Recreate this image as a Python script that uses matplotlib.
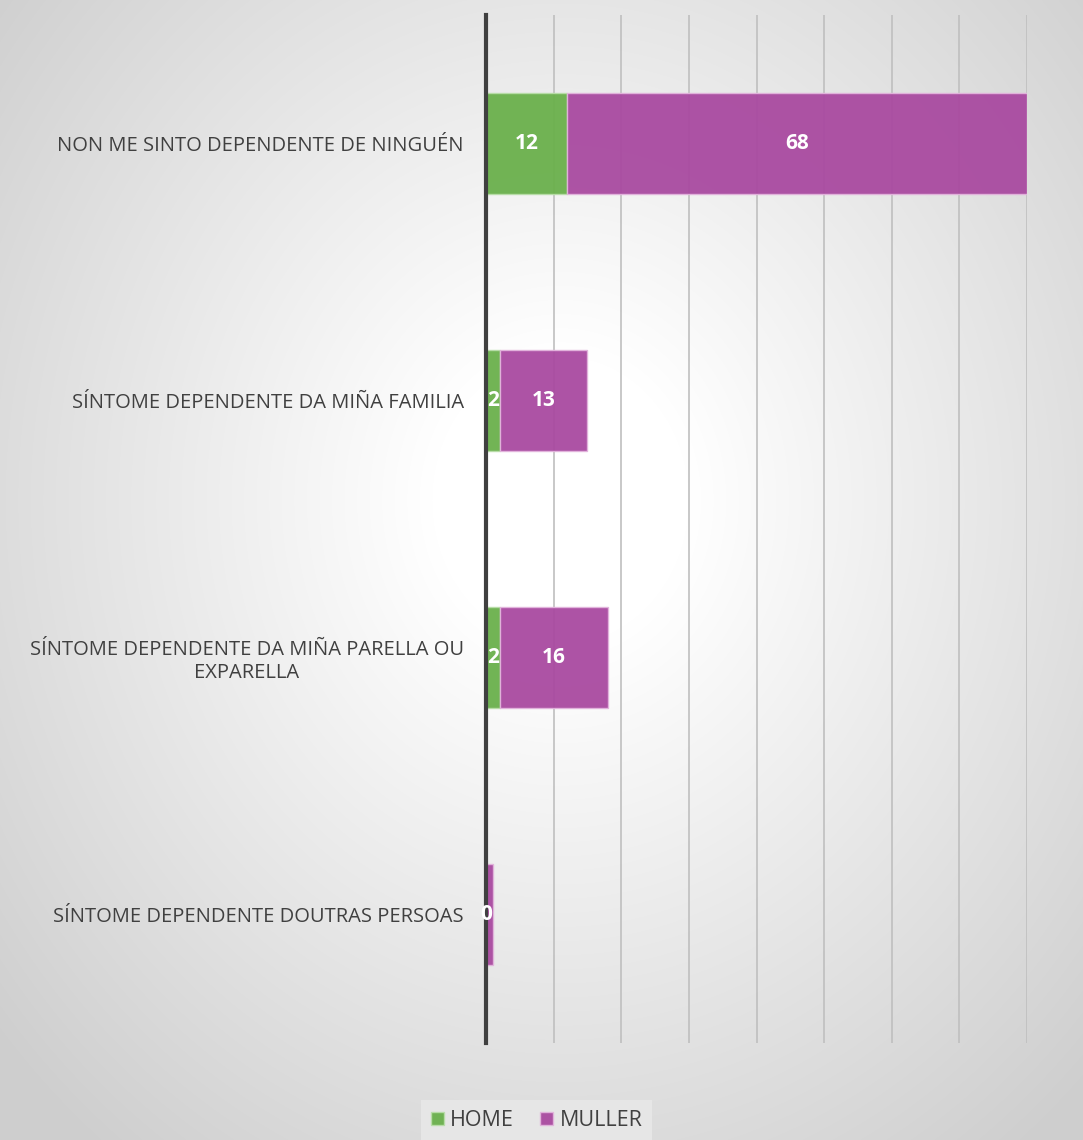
import numpy as np
import matplotlib.pyplot as plt

categories = ["NON ME SINTO DEPENDENTE DE NINGUÉN",
              "SÍNTOME DEPENDENTE DA MIÑA FAMILIA",
              "SÍNTOME DEPENDENTE DA MIÑA PARELLA OU\nEXPARELLA",
              "SÍNTOME DEPENDENTE DOUTRAS PERSOAS"]
home = [12, 2, 2, 0]
muller = [68, 13, 16, 1]
series_names = ["HOME", "MULLER"]

plt.rcParams['font.family'] = ['Open Sans', 'DejaVu Sans']

fig = plt.figure(figsize=(10.83, 11.4), dpi=100)

# radial gradient background
bg = fig.add_axes([0, 0, 1, 1])
yy, xx = np.mgrid[0:1140, 0:1083]
r = np.sqrt(((xx - 560) / 640.0)**2 + ((yy - 500) / 720.0)**2)
shade = np.clip(1.0 - 0.17 * np.clip(r - 0.2, 0, None) / 0.85, 0.81, 1.0)
bg.imshow(np.dstack([shade, shade, shade]), aspect='auto', extent=[0, 1, 0, 1])
bg.axis('off')

ax = fig.add_axes([486/1083, 1-1043/1140, (1027-486)/1083, (1043-15)/1140])
ax.patch.set_alpha(0)
y = np.arange(len(categories))
green = "#6AB04C"
purple = "#A94AA0"
b1 = ax.barh(y, home, height=0.39, color=green, alpha=0.95, edgecolor="#B8DDA8", linewidth=1, zorder=3)
b2 = ax.barh(y, muller, left=home, height=0.39, color=purple, alpha=0.95, edgecolor="#E2B4DC", linewidth=1, zorder=3)

for vals, lefts in [(home, [0]*4), (muller, home)]:
    for i, v in enumerate(vals):
        if v == 1:
            continue
        ax.text(lefts[i] + v/2, y[i], str(v), ha='center', va='center',
                color='white', fontsize=15, fontweight='bold', zorder=5)

ax.set_xlim(0, 80)
ax.set_ylim(3.5, -0.5)
ax.set_xticks(np.arange(0, 81, 10))
ax.set_xticklabels([])
ax.tick_params(axis='x', length=0)
ax.tick_params(axis='y', length=0, pad=16, labelsize=14.5, labelcolor="#404040")
ax.set_yticks(y)
ax.set_yticklabels(categories)
for lab in ax.get_yticklabels():
    lab.set_multialignment('center')
ax.grid(axis='x', color="#BFBFBF", linewidth=1.2, zorder=0)
for s in ['top', 'right', 'bottom']:
    ax.spines[s].set_visible(False)
ax.spines['left'].set_color("#404040")
ax.spines['left'].set_linewidth(3)
ax.spines['left'].set_zorder(4)

leg = fig.legend([b1, b2], series_names, loc='lower center', bbox_to_anchor=(0.4955, -0.01),
                 ncol=2, frameon=True, fontsize=15.5, handlelength=0.6, handleheight=0.6,
                 handletextpad=0.3, columnspacing=1.2, labelcolor="#404040", borderpad=0.45)
leg.get_frame().set_facecolor("#E6E6E6")
leg.get_frame().set_edgecolor("none")
leg.get_frame().set_alpha(1)
leg.get_frame().set_boxstyle('square', pad=0)

fig.savefig("out.png", dpi=100)
